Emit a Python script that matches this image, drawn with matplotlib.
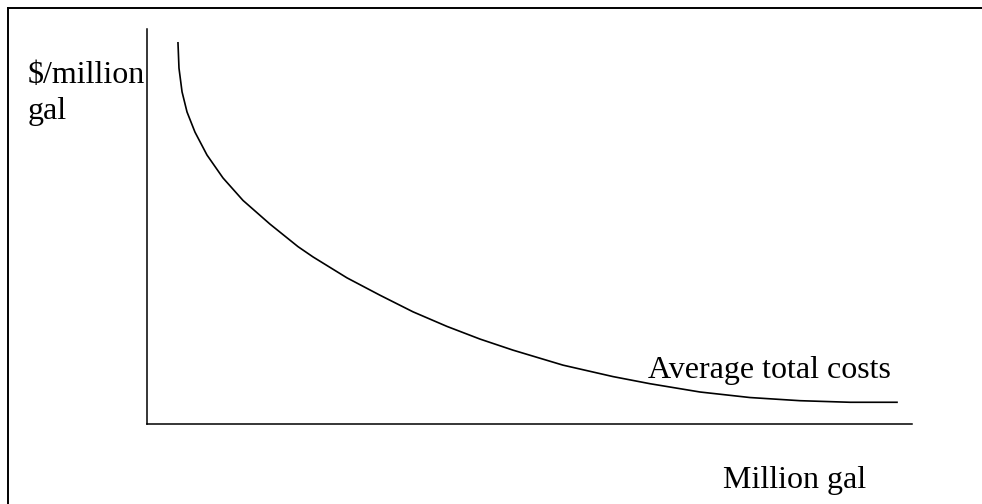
import numpy as np
import matplotlib.pyplot as plt
from matplotlib.lines import Line2D

plt.rcParams['font.family'] = ['Liberation Serif', 'DejaVu Serif']

# average total cost curve (axes run 0..10 both ways)
quantity = [0.405, 0.418, 0.458, 0.523, 0.627, 0.784, 0.993, 1.255, 1.608, 1.974,
            2.170, 2.614, 3.046, 3.477, 3.922, 4.353, 4.784, 5.438, 6.092, 6.575,
            7.229, 7.882, 8.536, 9.190, 9.804]
avg_cost = [9.65, 9.01, 8.41, 7.90, 7.39, 6.81, 6.23, 5.66, 5.06, 4.49,
            4.23, 3.70, 3.26, 2.84, 2.47, 2.15, 1.87, 1.49, 1.20, 1.02,
            0.81, 0.67, 0.59, 0.55, 0.55]

W, H = 982, 504
fig = plt.figure(figsize=(W / 100, H / 100), dpi=100)

# axes box in pixels: left 147, right 912, top 29, bottom 424
ax = fig.add_axes([147 / W, (H - 424) / H, 765 / W, 395 / H])
ax.plot(quantity, avg_cost, color='black', linewidth=1.2,
        solid_joinstyle='round')
ax.set_xlim(0, 10)
ax.set_ylim(0, 10)
ax.spines['top'].set_visible(False)
ax.spines['right'].set_visible(False)
for s in ['left', 'bottom']:
    ax.spines[s].set_linewidth(1.1)
ax.set_xticks([])
ax.set_yticks([])

# outer frame (only top and left edges fall inside the picture)
fig.add_artist(Line2D([8 / W, 1.1], [1 - 8 / H, 1 - 8 / H], transform=fig.transFigure,
                      color='black', linewidth=1.4))
fig.add_artist(Line2D([8 / W, 8 / W], [1 - 8 / H, -0.1], transform=fig.transFigure,
                      color='black', linewidth=1.4))

fs = 23
fig.text(28 / W, 1 - 83 / H, '$/million', fontsize=fs, ha='left', va='baseline')
fig.text(28 / W, 1 - 119 / H, 'gal', fontsize=fs, ha='left', va='baseline')
fig.text(648 / W, 1 - 378 / H, 'Average total costs', fontsize=fs, ha='left', va='baseline')
fig.text(866 / W, 1 - 488 / H, 'Million gal', fontsize=fs, ha='right', va='baseline')

fig.savefig('out.png', dpi=100)
